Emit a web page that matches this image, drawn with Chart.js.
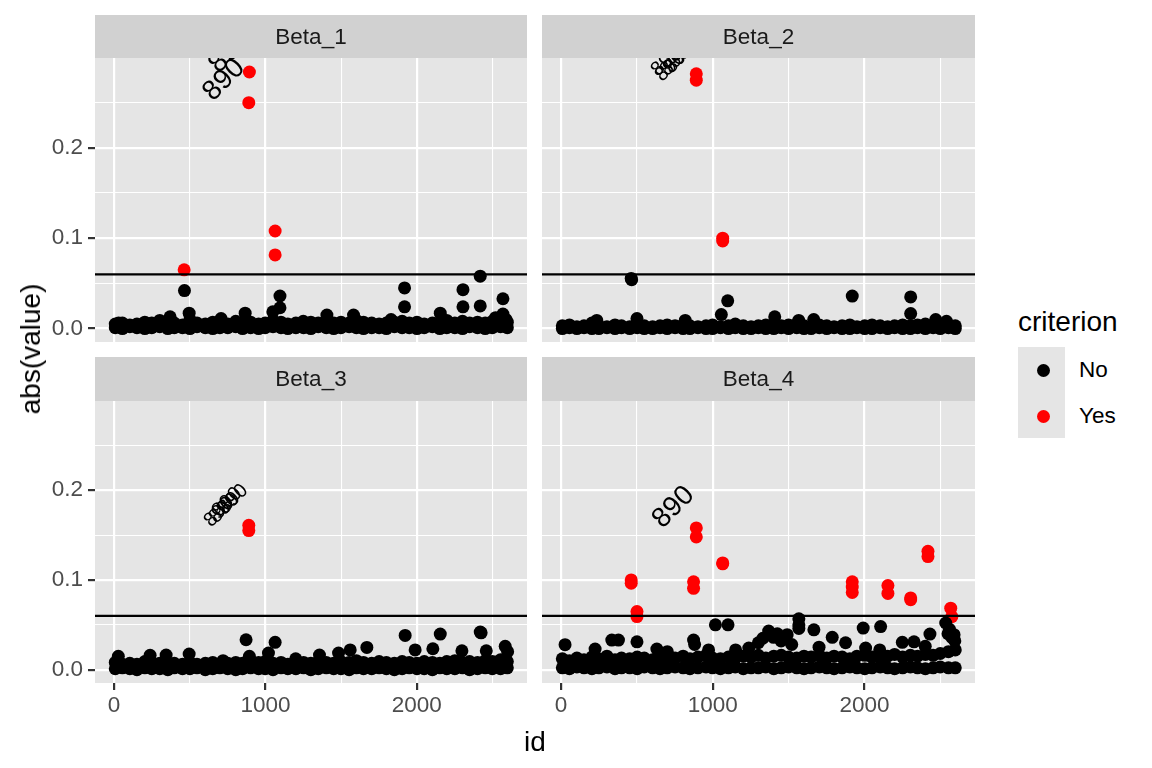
<!DOCTYPE html>
<html>
<head>
<meta charset="utf-8">
<script src="https://cdn.jsdelivr.net/npm/chart.js@4.4.1/dist/chart.umd.min.js"></script>
<style>
    html, body { margin: 0; padding: 0; background: #fff; }
    #wrap { position: relative; width: 1152px; height: 768px; overflow: hidden; font-family: "Liberation Sans", Arial, sans-serif; }
    #wrap canvas { position: absolute; }
    .txt { position: absolute; white-space: nowrap; color: #000; line-height: 1; }
</style>
</head>
<body>
<div id="wrap">
    <canvas id="p1" width="527" height="342" style="left:0;top:0"></canvas>
    <canvas id="p2" width="433" height="342" style="left:542px;top:0"></canvas>
    <canvas id="p3" width="527" height="426" style="left:0;top:342px"></canvas>
    <canvas id="p4" width="433" height="426" style="left:542px;top:342px"></canvas>

    <div class="txt" style="left:31px;top:349px;font-size:28px;transform:translate(-50%,-50%) rotate(-90deg)">abs(value)</div>
    <div class="txt" style="left:535px;top:742px;font-size:28px;transform:translate(-50%,-50%)">id</div>

    <div class="txt" style="left:1018px;top:322px;font-size:28px;transform:translateY(-50%)">criterion</div>
    <div style="position:absolute;left:1018px;top:347px;width:47px;height:91px;background:#E5E5E5"></div>
    <div style="position:absolute;left:1036.5px;top:363.5px;width:13px;height:13px;border-radius:50%;background:#000"></div>
    <div style="position:absolute;left:1036.5px;top:409.5px;width:13px;height:13px;border-radius:50%;background:#FF0000"></div>
    <div class="txt" style="left:1079px;top:370px;font-size:22.5px;transform:translateY(-50%)">No</div>
    <div class="txt" style="left:1079px;top:416px;font-size:22.5px;transform:translateY(-50%)">Yes</div>
</div>
<script>
(() => {
    // axis breaks (minor + major) and the ones that carry a label
    const xBreaks = [0, 500, 1000, 1500, 2000, 2500];
    const yBreaks = [0, 0.05, 0.1, 0.15, 0.2, 0.25];
    const xLabelled = [0, 1000, 2000];
    const yLabelled = [0, 0.1, 0.2];
    const cutoff = 0.06;
    const pointLabel = "890";

    // dense band of small values along the bottom of each facet
    const bandIds = [8, 55, 104, 151, 203, 249, 302, 355, 398, 452,
        501, 548, 603, 652, 699, 751, 804, 849, 902, 955,
        998, 1050, 1103, 1148, 1201, 1252, 1300, 1349, 1402, 1451,
        1499, 1553, 1601, 1648, 1702, 1751, 1799, 1852, 1903, 1950,
        2001, 2049, 2103, 2152, 2198, 2251, 2302, 2349, 2401, 2452,
        2499, 2553, 2598];

    // Beta_1
    const beta1Low = [0.001, 0.000, 0.002, 0.001, 0.000, 0.001, 0.002, 0.000, 0.001, 0.001,
        0.000, 0.002, 0.001, 0.000, 0.001, 0.001, 0.002, 0.000, 0.001, 0.000,
        0.001, 0.002, 0.001, 0.000, 0.001, 0.001, 0.000, 0.002, 0.001, 0.000,
        0.001, 0.002, 0.001, 0.000, 0.001, 0.001, 0.000, 0.002, 0.001, 0.001,
        0.000, 0.001, 0.002, 0.000, 0.001, 0.001, 0.000, 0.002, 0.001, 0.000,
        0.001, 0.002, 0.001];
    const beta1Mid = [0.005, 0.006, 0.004, 0.005, 0.007, 0.006, 0.009, 0.005, 0.006, 0.004,
        0.010, 0.006, 0.005, 0.007, 0.006, 0.005, 0.008, 0.006, 0.007, 0.005,
        0.006, 0.009, 0.007, 0.005, 0.006, 0.005, 0.007, 0.006, 0.008, 0.006,
        0.007, 0.006, 0.009, 0.007, 0.006, 0.005, 0.006, 0.007, 0.008, 0.006,
        0.007, 0.005, 0.006, 0.007, 0.009, 0.006, 0.008, 0.006, 0.007, 0.006,
        0.008, 0.009, 0.007];
    const beta1NoIds = [30, 370, 465, 496, 707, 866, 1049, 1096, 1096, 1406, 1582, 1919,
        1919, 2155, 2305, 2305, 2419, 2419, 2569, 2569, 2590, 2520, 1250, 1830];
    const beta1NoVals = [0.006, 0.013, 0.042, 0.017, 0.011, 0.017, 0.0185, 0.036, 0.023, 0.015, 0.015, 0.045,
        0.024, 0.017, 0.043, 0.024, 0.058, 0.025, 0.033, 0.016, 0.010, 0.012, 0.008, 0.010];
    const beta1YesIds = [463, 890, 894, 1064, 1064];
    const beta1YesVals = [0.065, 0.25, 0.284, 0.108, 0.0815];
    const beta1LabelIds = [727, 765];
    const beta1LabelVals = [0.275, 0.306];

    // Beta_2
    const beta2Low = [0.000, 0.001, 0.000, 0.001, 0.000, 0.000, 0.001, 0.000, 0.001, 0.000,
        0.001, 0.000, 0.000, 0.001, 0.000, 0.001, 0.000, 0.000, 0.001, 0.000,
        0.000, 0.001, 0.000, 0.001, 0.000, 0.000, 0.001, 0.000, 0.000, 0.001,
        0.000, 0.001, 0.000, 0.000, 0.001, 0.000, 0.001, 0.000, 0.000, 0.001,
        0.000, 0.000, 0.001, 0.000, 0.001, 0.000, 0.000, 0.001, 0.000, 0.001,
        0.000, 0.001, 0.000];
    const beta2Mid = [0.003, 0.004, 0.002, 0.003, 0.006, 0.003, 0.002, 0.004, 0.003, 0.002,
        0.006, 0.003, 0.002, 0.003, 0.004, 0.003, 0.004, 0.003, 0.002, 0.003,
        0.004, 0.002, 0.003, 0.005, 0.003, 0.002, 0.003, 0.004, 0.005, 0.003,
        0.004, 0.005, 0.003, 0.002, 0.004, 0.003, 0.002, 0.003, 0.004, 0.002,
        0.003, 0.004, 0.003, 0.002, 0.003, 0.004, 0.003, 0.004, 0.005, 0.004,
        0.003, 0.004, 0.003];
    const beta2NoIds = [462, 465, 500, 1056, 1098, 1919, 2304, 2304, 235, 1408, 1665, 1566, 2469, 818, 2540];
    const beta2NoVals = [0.0555, 0.054, 0.011, 0.0155, 0.0307, 0.0359, 0.035, 0.0166, 0.009, 0.013, 0.010, 0.009, 0.010, 0.009, 0.008];
    const beta2YesIds = [891, 891, 1065, 1065];
    const beta2YesVals = [0.282, 0.275, 0.100, 0.097];
    const beta2LabelIds = [719, 752, 779, 693];
    const beta2LabelVals = [0.290, 0.296, 0.299, 0.296];

    // Beta_3
    const beta3Low = [0.001, 0.002, 0.001, 0.000, 0.002, 0.001, 0.001, 0.000, 0.002, 0.001,
        0.001, 0.002, 0.000, 0.001, 0.002, 0.001, 0.000, 0.001, 0.002, 0.001,
        0.001, 0.000, 0.002, 0.001, 0.001, 0.002, 0.000, 0.001, 0.002, 0.001,
        0.001, 0.000, 0.002, 0.001, 0.001, 0.002, 0.001, 0.000, 0.001, 0.002,
        0.001, 0.001, 0.000, 0.002, 0.001, 0.001, 0.002, 0.000, 0.001, 0.002,
        0.001, 0.001, 0.002];
    const beta3Mid = [0.008, 0.006, 0.007, 0.006, 0.009, 0.008, 0.007, 0.006, 0.007, 0.006,
        0.008, 0.006, 0.007, 0.008, 0.006, 0.007, 0.008, 0.007, 0.006, 0.008,
        0.009, 0.007, 0.008, 0.006, 0.007, 0.008, 0.007, 0.009, 0.008, 0.007,
        0.009, 0.008, 0.010, 0.008, 0.007, 0.009, 0.008, 0.007, 0.009, 0.008,
        0.007, 0.009, 0.008, 0.007, 0.009, 0.010, 0.008, 0.009, 0.008, 0.010,
        0.009, 0.011, 0.009];
    const beta3NoIds = [28, 238, 344, 496, 872, 894, 1020, 1064, 1357, 1483, 1560, 1670,
        1923, 1989, 2106, 2155, 2298, 2419, 2425, 2459, 2584, 2600, 720, 1200];
    const beta3NoVals = [0.0148, 0.016, 0.0163, 0.0174, 0.0333, 0.0148, 0.0185, 0.0304, 0.0163, 0.0185, 0.022, 0.0248,
        0.0381, 0.022, 0.0233, 0.0396, 0.021, 0.0419, 0.041, 0.021, 0.026, 0.020, 0.010, 0.012];
    const beta3YesIds = [890, 890];
    const beta3YesVals = [0.161, 0.155];
    const beta3LabelIds = [694, 727, 747, 787];
    const beta3LabelVals = [0.1756, 0.180, 0.1867, 0.190];

    // Beta_4
    const beta4Low = [0.002, 0.001, 0.003, 0.002, 0.001, 0.002, 0.003, 0.001, 0.002, 0.002,
        0.001, 0.003, 0.002, 0.001, 0.002, 0.003, 0.002, 0.001, 0.002, 0.003,
        0.002, 0.001, 0.002, 0.003, 0.001, 0.002, 0.002, 0.003, 0.001, 0.002,
        0.003, 0.002, 0.001, 0.002, 0.003, 0.002, 0.001, 0.002, 0.003, 0.002,
        0.001, 0.002, 0.003, 0.002, 0.001, 0.002, 0.003, 0.002, 0.001, 0.002,
        0.003, 0.002, 0.002];
    const beta4Mid = [0.012, 0.010, 0.013, 0.011, 0.014, 0.012, 0.015, 0.011, 0.013, 0.012,
        0.014, 0.013, 0.011, 0.014, 0.012, 0.013, 0.015, 0.012, 0.014, 0.016,
        0.013, 0.012, 0.014, 0.013, 0.015, 0.014, 0.016, 0.013, 0.015, 0.016,
        0.014, 0.013, 0.015, 0.014, 0.016, 0.013, 0.015, 0.014, 0.012, 0.015,
        0.016, 0.014, 0.013, 0.015, 0.017, 0.014, 0.016, 0.015, 0.017, 0.016,
        0.018, 0.020, 0.022];
    const beta4NoIds = [26, 224, 334, 378, 500, 631, 873, 880, 972, 1017, 1100, 1237,
        1368, 1425, 1490, 1567, 1567, 1567, 1666, 1787, 1875, 1991, 2007, 2106,
        2249, 2326, 2431, 2535, 2560, 2590, 2595, 1300, 1330, 1400, 1450, 1520,
        2550, 2575, 700, 1150, 1700, 2100, 2400];
    const beta4NoVals = [0.0278, 0.023, 0.033, 0.033, 0.031, 0.023, 0.033, 0.028, 0.022, 0.050, 0.050, 0.024,
        0.043, 0.040, 0.039, 0.0567, 0.050, 0.046, 0.0444, 0.036, 0.030, 0.0463, 0.024, 0.048,
        0.0304, 0.031, 0.0396, 0.052, 0.045, 0.039, 0.032, 0.030, 0.035, 0.036, 0.032, 0.028,
        0.040, 0.036, 0.020, 0.022, 0.025, 0.022, 0.026];
    const beta4YesIds = [462, 462, 500, 500, 873, 873, 891, 891, 1065, 1065, 1919, 1919, 1919,
        2154, 2154, 2304, 2304, 2418, 2418, 2568, 2575];
    const beta4YesVals = [0.100, 0.0963, 0.0648, 0.0592, 0.098, 0.0907, 0.158, 0.148, 0.119, 0.118, 0.098, 0.092, 0.086,
        0.0937, 0.085, 0.080, 0.078, 0.132, 0.126, 0.0685, 0.059];
    const beta4LabelIds = [741];
    const beta4LabelVals = [0.181];

    const FONT = "'Liberation Sans', Arial, sans-serif";
    const toPoints = (ids, vals) => ids.map((id, i) => ({ x: id, y: vals[i] }));

    const facetPlugin = {
        id: "facet",
        beforeDraw(chart, args, opts) {
            const { ctx, chartArea: a } = chart;
            ctx.save();
            ctx.fillStyle = "#E5E5E5";
            ctx.fillRect(a.left, a.top, a.right - a.left, a.bottom - a.top);
            ctx.fillStyle = "#D1D1D1";
            ctx.fillRect(a.left, a.top - opts.stripHeight, a.right - a.left, opts.stripHeight);
            ctx.fillStyle = "#1A1A1A";
            ctx.font = "22.5px " + FONT;
            ctx.textAlign = "center";
            ctx.textBaseline = "middle";
            ctx.fillText(opts.title, (a.left + a.right) / 2, a.top - opts.stripHeight / 2 + 1);
            ctx.restore();
        },
        afterDatasetsDraw(chart, args, opts) {
            const { ctx, chartArea: a, scales } = chart;
            ctx.save();
            ctx.beginPath();
            ctx.rect(a.left, a.top, a.right - a.left, a.bottom - a.top);
            ctx.clip();

            const yLine = scales.y.getPixelForValue(cutoff);
            ctx.strokeStyle = "#000";
            ctx.lineWidth = 2.2;
            ctx.beginPath();
            ctx.moveTo(a.left, yLine);
            ctx.lineTo(a.right, yLine);
            ctx.stroke();

            ctx.fillStyle = "#000";
            ctx.font = opts.labelSize + "px " + FONT;
            ctx.textAlign = "center";
            ctx.textBaseline = "middle";
            opts.labelIds.forEach((id, i) => {
                ctx.save();
                ctx.translate(scales.x.getPixelForValue(id), scales.y.getPixelForValue(opts.labelVals[i]));
                ctx.rotate(-Math.PI / 4);
                ctx.fillText(pointLabel, 0, 0);
                ctx.restore();
            });
            ctx.restore();
        }
    };

    const noPadding = (s) => {
        s.paddingTop = 0;
        s.paddingBottom = 0;
        s.paddingLeft = 0;
        s.paddingRight = 0;
    };

    const buildPanel = (canvasId, panel) => {
        const black = toPoints(bandIds, panel.low)
            .concat(toPoints(bandIds, panel.mid), toPoints(panel.noIds, panel.noVals));
        const red = toPoints(panel.yesIds, panel.yesVals);
        const tickColor = (values) => (c) => values.includes(c.tick && c.tick.value) ? "#333333" : "rgba(0,0,0,0)";
        const lineWidth = (values) => (c) => values.includes(c.tick && c.tick.value) ? 2.2 : 1.1;

        new Chart(document.getElementById(canvasId), {
            type: "scatter",
            data: {
                datasets: [
                    { data: black, backgroundColor: "#000000", pointRadius: 6.5, borderWidth: 0, pointHoverRadius: 6.5 },
                    { data: red, backgroundColor: "#FF0000", pointRadius: 6.5, borderWidth: 0, pointHoverRadius: 6.5 }
                ]
            },
            options: {
                responsive: false,
                animation: false,
                events: [],
                layout: { autoPadding: false, padding: { top: panel.padTop, left: 0, right: 0, bottom: 0 } },
                plugins: {
                    legend: { display: false },
                    tooltip: { enabled: false },
                    facet: {
                        title: panel.title,
                        stripHeight: panel.stripHeight,
                        labelIds: panel.labelIds,
                        labelVals: panel.labelVals,
                        labelSize: panel.labelSize
                    }
                },
                scales: {
                    x: {
                        type: "linear",
                        min: -126,
                        max: 2728,
                        border: { display: false },
                        afterBuildTicks: (s) => { s.ticks = xBreaks.map((v) => ({ value: v })); },
                        afterFit: (s) => {
                            s.height = panel.showX ? 85 : 0;
                            noPadding(s);
                        },
                        grid: {
                            color: "#FFFFFF",
                            lineWidth: lineWidth(xLabelled),
                            drawTicks: panel.showX,
                            tickLength: 7,
                            tickWidth: 2.2,
                            tickColor: tickColor(xLabelled)
                        },
                        ticks: {
                            display: panel.showX,
                            padding: 2,
                            maxRotation: 0,
                            autoSkip: false,
                            color: "#4D4D4D",
                            font: { family: FONT, size: 22.5 },
                            callback: (v) => xLabelled.includes(v) ? String(v) : ""
                        }
                    },
                    y: {
                        type: "linear",
                        min: -0.0149,
                        max: 0.2995,
                        border: { display: false },
                        afterBuildTicks: (s) => { s.ticks = yBreaks.map((v) => ({ value: v })); },
                        afterFit: (s) => {
                            s.width = panel.showY ? 95 : 0;
                            noPadding(s);
                        },
                        grid: {
                            color: "#FFFFFF",
                            lineWidth: lineWidth(yLabelled),
                            drawTicks: panel.showY,
                            tickLength: 7,
                            tickWidth: 2.2,
                            tickColor: tickColor(yLabelled)
                        },
                        ticks: {
                            display: panel.showY,
                            padding: 5,
                            autoSkip: false,
                            color: "#4D4D4D",
                            font: { family: FONT, size: 22.5 },
                            callback: (v) => yLabelled.includes(v) ? v.toFixed(1) : ""
                        }
                    }
                }
            },
            plugins: [facetPlugin]
        });
    };

    buildPanel("p1", {
        title: "Beta_1", low: beta1Low, mid: beta1Mid, noIds: beta1NoIds, noVals: beta1NoVals,
        yesIds: beta1YesIds, yesVals: beta1YesVals, labelIds: beta1LabelIds, labelVals: beta1LabelVals,
        labelSize: 28, showX: false, showY: true, padTop: 58, stripHeight: 43
    });
    buildPanel("p2", {
        title: "Beta_2", low: beta2Low, mid: beta2Mid, noIds: beta2NoIds, noVals: beta2NoVals,
        yesIds: beta2YesIds, yesVals: beta2YesVals, labelIds: beta2LabelIds, labelVals: beta2LabelVals,
        labelSize: 20, showX: false, showY: false, padTop: 58, stripHeight: 43
    });
    buildPanel("p3", {
        title: "Beta_3", low: beta3Low, mid: beta3Mid, noIds: beta3NoIds, noVals: beta3NoVals,
        yesIds: beta3YesIds, yesVals: beta3YesVals, labelIds: beta3LabelIds, labelVals: beta3LabelVals,
        labelSize: 20, showX: true, showY: true, padTop: 59, stripHeight: 44
    });
    buildPanel("p4", {
        title: "Beta_4", low: beta4Low, mid: beta4Mid, noIds: beta4NoIds, noVals: beta4NoVals,
        yesIds: beta4YesIds, yesVals: beta4YesVals, labelIds: beta4LabelIds, labelVals: beta4LabelVals,
        labelSize: 28, showX: true, showY: false, padTop: 59, stripHeight: 44
    });
})();
</script>
</body>
</html>
